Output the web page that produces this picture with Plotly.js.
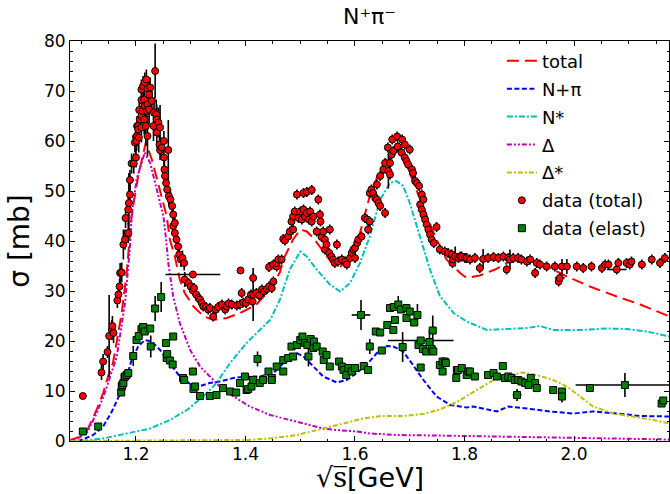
<!DOCTYPE html>
<html>
<head>
<meta charset="utf-8">
<script src="https://cdn.plot.ly/plotly-3.0.1.min.js"></script>
<style>html,body{margin:0;padding:0;background:#fff;}</style>
</head>
<body>
<div id="chart" style="width:670px;height:494px;"></div>
<script>
// ---- model curves ----
const totalX = [1.08,1.098,1.110,1.128,1.140,1.149,1.158,1.174,1.183,1.189,1.192,1.204,1.218,1.229,1.244,1.256,1.262,1.271,1.280,1.289,1.305,1.323,1.341,1.366,1.390,1.420,1.445,1.463,1.469,1.487,1.500,1.512,1.524,1.542,1.560,1.573,1.591,1.606,1.627,1.646,1.664,1.673,1.688,1.700,1.716,1.731,1.749,1.767,1.792,1.804,1.828,1.856,1.877,1.901,1.926,1.956,1.987,2.029,2.078,2.121,2.175];
const totalY = [0.2,0.8,1.9,6.2,9.6,12.9,15.6,25.6,33.6,42.3,45,53,59.7,56.3,50.3,45,40.3,36.9,32.3,29.6,26.9,25.0,24.2,24.6,25.6,27.3,30.3,33.8,36.3,40.3,42.3,41.9,40.6,37.9,35.3,34.9,36.3,40.3,49.0,54.3,57.3,58.3,57.0,53.6,49.0,45.0,40.3,36.3,33.6,32.6,33.1,34.3,35.6,36.3,35.9,34.6,32.9,30.9,28.9,27.3,24.9];

const npiX = [1.08,1.098,1.122,1.140,1.156,1.168,1.180,1.192,1.204,1.216,1.229,1.244,1.262,1.280,1.299,1.317,1.335,1.353,1.378,1.402,1.426,1.451,1.463,1.481,1.494,1.506,1.524,1.542,1.567,1.585,1.603,1.621,1.640,1.658,1.670,1.688,1.706,1.725,1.749,1.774,1.804,1.816,1.859,1.880,1.914,1.956,1.999,2.035,2.078,2.121,2.175];
const npiY = [0,0.1,1.2,2.9,5.9,8.6,11.6,16.2,18.9,20.2,19.9,18.2,15.6,12.9,11.4,11.0,11.6,11.9,12.6,12.9,12.9,13.6,14.9,16.9,17.6,16.9,14.9,12.9,11.7,12.2,13.6,15.2,17.6,19.0,18.9,17.9,15.2,12.2,8.9,7.2,6.7,6.9,5.9,6.9,6.5,5.9,5.5,5.9,5.5,5.0,4.9];

const nstarX = [1.08,1.098,1.140,1.183,1.226,1.262,1.293,1.323,1.347,1.372,1.402,1.426,1.445,1.463,1.481,1.500,1.512,1.530,1.554,1.573,1.591,1.609,1.627,1.646,1.664,1.676,1.688,1.700,1.719,1.737,1.755,1.780,1.804,1.841,1.877,1.914,1.938,1.962,2.011,2.060,2.096,2.133,2.175];
const nstarY = [0,0,0.5,1.5,2.5,4.2,6.2,8.9,11.6,15.6,19.6,22.2,24.2,28.3,34.3,37.9,36.9,34.3,31.3,29.9,31.6,35.6,40.9,48.3,51.6,52.0,51.0,47.6,40.9,34.3,29.0,25.6,23.9,22.2,22.4,22.6,23.0,22.2,22.2,22.5,22.4,21.9,20.9];

const deltaX = [1.08,1.110,1.128,1.143,1.165,1.180,1.189,1.192,1.201,1.216,1.226,1.238,1.250,1.255,1.259,1.268,1.280,1.299,1.317,1.335,1.353,1.378,1.408,1.445,1.469,1.494,1.518,1.542,1.567,1.603,1.627,1.676,1.749,1.798,1.920,2.041,2.175];
const deltaY = [0,1.6,5.5,9.6,16.9,27.6,38.9,45,52.3,57.7,55.6,50.3,45,40.3,35.6,28.9,23.6,18.2,14.9,12.9,10.9,8.9,6.9,5.2,4.5,3.9,3.2,2.5,2.2,1.9,1.5,1.2,1.1,1.0,0.7,0.5,0.3];

const dstarX = [1.08,1.300,1.400,1.445,1.494,1.542,1.579,1.615,1.646,1.688,1.725,1.755,1.786,1.822,1.853,1.883,1.907,1.932,1.962,1.987,2.011,2.035,2.072,2.108,2.145,2.175];
const dstarY = [0,0.05,0.2,0.5,1.2,2.5,3.5,4.5,5.0,5.0,5.4,6.3,7.8,10.2,12.2,13.2,13.7,13.2,12.2,10.9,8.9,6.9,5.5,4.9,4.2,3.5];

// ---- data (total) ----
const totDataX = [1.103,1.137,1.140,1.148,1.151,1.156,1.157,1.159,1.166,1.168,1.170,1.171,1.174,1.177,1.180,1.181,1.186,1.186,1.187,1.189,1.189,1.192,1.196,1.198,1.200,1.200,1.201,1.202,1.202,1.204,1.204,1.205,1.206,1.207,1.210,1.210,1.210,1.210,1.212,1.213,1.215,1.215,1.216,1.216,1.218,1.219,1.220,1.221,1.221,1.221,1.224,1.224,1.226,1.229,1.232,1.233,1.235,1.237,1.238,1.238,1.241,1.243,1.244,1.244,1.247,1.251,1.251,1.252,1.253,1.255,1.257,1.259,1.260,1.263,1.266,1.268,1.268,1.271,1.271,1.274,1.277,1.279,1.282,1.285,1.288,1.289,1.296,1.300,1.304,1.304,1.306,1.310,1.314,1.317,1.320,1.323,1.328,1.332,1.335,1.341,1.346,1.350,1.357,1.363,1.366,1.369,1.375,1.384,1.390,1.391,1.393,1.396,1.401,1.405,1.410,1.413,1.414,1.414,1.420,1.425,1.430,1.434,1.439,1.443,1.443,1.448,1.451,1.451,1.457,1.457,1.460,1.466,1.469,1.472,1.478,1.481,1.484,1.487,1.487,1.490,1.494,1.497,1.500,1.503,1.506,1.506,1.509,1.512,1.512,1.516,1.518,1.521,1.521,1.524,1.530,1.533,1.536,1.537,1.539,1.542,1.545,1.545,1.548,1.553,1.554,1.557,1.560,1.563,1.567,1.569,1.576,1.582,1.585,1.591,1.594,1.597,1.600,1.600,1.604,1.606,1.612,1.618,1.622,1.624,1.627,1.627,1.630,1.633,1.637,1.640,1.640,1.643,1.646,1.646,1.652,1.655,1.655,1.660,1.661,1.664,1.664,1.667,1.668,1.670,1.677,1.678,1.685,1.686,1.691,1.691,1.694,1.697,1.700,1.704,1.706,1.710,1.713,1.717,1.719,1.722,1.722,1.725,1.725,1.728,1.731,1.734,1.737,1.740,1.744,1.749,1.755,1.764,1.770,1.777,1.778,1.779,1.783,1.789,1.792,1.795,1.801,1.804,1.810,1.819,1.828,1.834,1.843,1.853,1.862,1.871,1.877,1.880,1.883,1.889,1.898,1.904,1.914,1.920,1.929,1.932,1.938,1.950,1.965,1.972,1.974,1.978,1.987,2.005,2.017,2.032,2.051,2.057,2.063,2.078,2.081,2.096,2.102,2.105,2.124,2.142,2.157,2.166];
const totDataY = [9.0,13.7,15.9,17.8,21.0,22.2,23.0,21.6,28.1,29.3,30.9,33.6,33.7,39.3,40.3,44.6,41.6,46.3,47.6,49.3,52.2,55.5,55.5,59.7,56.7,60.8,60.0,61.0,63.0,63.0,62.3,60.7,66.2,64.3,68.2,70.3,65.0,62.7,66.0,71.0,68.3,64.3,71.7,67.0,63.0,72.3,66.0,70.5,67.3,61.0,69.3,66.3,70.7,68.0,63.0,65.7,74.0,65.3,64.3,61.7,63.7,59.3,62.7,58.2,58.7,60.0,56.7,54.3,53.0,51.6,50.3,58.2,49.0,48.3,47.0,45.3,43.0,43.6,41.6,40.3,38.9,37.3,36.3,36.6,35.6,32.3,31.6,30.9,33.3,30.1,30.6,29.3,28.6,28.3,27.6,26.9,26.8,26.3,26.6,24.9,26.3,26.8,27.3,26.3,26.9,27.5,27.3,27.1,27.3,34.1,29.6,27.7,27.6,28.3,29.3,27.9,29.3,32.6,29.6,29.1,30.3,29.9,30.4,30.9,34.8,30.6,31.9,35.3,34.9,35.6,36.3,36.3,40.4,40.1,40.9,41.9,43.9,42.3,44.9,45.9,49.3,44.6,45.9,44.3,49.6,46.3,44.9,49.8,45.6,44.3,45.9,50.2,43.9,44.9,41.9,48.3,45.3,43.9,40.8,41.9,40.3,38.3,39.3,37.6,42.3,36.9,36.3,35.6,39.3,35.9,36.3,35.9,35.3,36.6,37.6,38.3,38.6,36.6,39.6,40.3,40.9,44.6,44.3,42.3,43.9,49.6,50.3,49.6,48.6,48.3,51.3,47.6,47.0,53.0,54.3,55.6,45.6,58.7,54.0,55.6,53.3,57.3,60.3,58.0,60.9,58.9,57.7,60.3,59.3,56.7,56.0,55.3,58.3,54.3,53.6,52.0,51.6,51.0,47.3,49.3,46.3,48.3,45.3,44.3,43.3,42.3,41.3,40.3,39.6,42.8,38.3,37.9,37.6,37.3,35.6,36.3,36.9,36.6,36.9,36.9,36.6,36.6,36.3,36.6,34.6,36.4,36.6,36.8,36.6,36.9,34.3,36.6,36.3,36.6,36.6,36.3,35.9,36.3,33.6,35.6,35.3,34.9,34.9,31.9,32.6,34.9,34.9,34.9,34.6,34.9,34.6,35.3,35.3,34.3,35.6,35.6,35.3,35.9,35.3,36.3,35.6,36.6];
const totDataErr = [0,1.5,1.5,1.2,8.2,2,2,2,1.5,1.5,1.5,2,2,3,2,2,2,3,6,2,2,2,2,2,2,2,2,2,2,2,2,3,2,2,2,2,2,3,2,2,2,3,2,2,4,2,2,2,2,4,3,3,2,3,3,3,5.5,3,3,3,3,2,4.5,2,2,2,2,3,2,2,2,6,2,2,2,2,2,2,1.5,1.5,1.5,1.5,1.5,1.5,1.5,1.5,1,1,0,1,1,1,1,1,1,1,1,1,1,1,1,1,1,1,1,1,1,1,1,0,1,1,1,1,1,1,5.3,1,1,1,1,1,1,1,1,1,1,1,1,1,1,1,1,1,1,1,1,1,1,1,1,1,1,1,1,1,1,1,1,1,1,1,1,1,1,1,1,1,1,1,1,1,1,1,1,1,1,1,1,1,1,1,1,1,1,1,1,1,1,1,1,1,1,1,1,1,1,1,1,1,1,1,1,1,1,1,1,1,3.5,1,1,1,1,1,1,1,1,1,1,1,1,1,1,1,1,1,1,1,1,1,1,1,1,1,1,1,1,1,1,1,1,1,1,1,1,1,2,1,1,1,1,1,1,1,1,2,1,1,1,1,1,1,2,1,1,1,1,1,1,1,1,1,1,1,1,1.5,1.5,1,1,1,1,1,1,1,1,1,1,1,1,1,1,1,1,1];
const totDataXErr = totDataX.map(function(){ return 0; });
totDataXErr[totDataX.indexOf(1.304)] = 0.05;
totDataXErr[totDataX.indexOf(2.078)] = 0.018;
totDataXErr[totDataX.indexOf(1.974)] = 0.009;

// ---- data (elast) ----
const elDataX = [1.103,1.131,1.173,1.174,1.175,1.177,1.179,1.180,1.183,1.186,1.195,1.201,1.205,1.210,1.213,1.216,1.226,1.227,1.235,1.246,1.255,1.256,1.257,1.262,1.267,1.268,1.286,1.288,1.304,1.305,1.308,1.317,1.335,1.347,1.359,1.372,1.383,1.390,1.399,1.402,1.405,1.411,1.414,1.422,1.426,1.432,1.442,1.448,1.448,1.457,1.469,1.469,1.478,1.484,1.487,1.494,1.500,1.504,1.509,1.513,1.515,1.519,1.524,1.525,1.530,1.541,1.543,1.548,1.554,1.571,1.576,1.579,1.584,1.588,1.594,1.600,1.611,1.616,1.624,1.627,1.638,1.646,1.649,1.659,1.664,1.670,1.671,1.673,1.679,1.684,1.687,1.694,1.694,1.700,1.708,1.714,1.716,1.720,1.720,1.724,1.730,1.736,1.740,1.742,1.743,1.755,1.760,1.760,1.764,1.766,1.785,1.786,1.788,1.795,1.804,1.807,1.810,1.819,1.843,1.853,1.859,1.870,1.874,1.880,1.886,1.892,1.896,1.898,1.904,1.911,1.917,1.921,1.929,1.932,1.962,1.978,1.978,2.029,2.093,2.160,2.163];
const elDataY = [1.9,2.9,9.7,10.9,11.2,11.6,12.8,12.9,13.2,13.6,17.0,20.2,21.0,22.4,22.8,21.9,22.5,18.9,26.5,28.8,19.6,16.6,17.4,16.1,15.3,20.9,12.6,12.2,13.9,10.4,10.9,9.0,9.0,9.2,10.6,9.9,9.7,11.6,12.9,10.2,10.4,10.9,12.2,16.4,11.6,12.2,13.9,12.6,12.2,14.9,13.9,16.2,16.6,18.9,16.9,19.2,20.2,20.9,19.6,19.2,16.9,20.4,18.6,19.9,18.9,17.9,16.2,17.2,14.9,15.9,14.9,14.2,13.2,14.6,13.9,14.6,25.2,15.0,14.2,18.9,21.9,21.7,18.1,23.2,26.6,22.2,26.8,24.2,27.3,26.3,18.8,26.6,24.6,25.9,23.7,25.2,19.2,20.1,14.7,18.4,17.9,19.8,18.4,22.1,17.9,15.2,15.9,13.9,15.9,15.6,12.6,14.2,14.2,14.6,13.2,13.9,13.9,12.9,13.2,13.6,12.9,15.0,12.6,12.9,12.6,12.2,9.2,12.2,11.9,11.6,11.2,12.6,11.6,10.6,10.2,9.9,8.9,10.6,11.2,7.5,8.1];
const elDataErr = [0,0,0,0,1,0,0,0,0,0,2,0,0,0,0,0,0,2.2,2.5,3,0,0,0,0,0,0,0,0,0,0,0,0,0,0,0,0,0,0,0,0,0,0,0,1.5,0,0,0,0,0,0,0,0,0,0,0,0,0,0,0,0,2,0,0,0,0,0,0,0,0,0,0,0,0,0,0,0,3,0,0,1.5,0,0,0,0,0,0,0,0,1.7,0,3,0,0,0,0,2.2,0,0,0,0,0,2.5,0,3,0,0,0,0,0,0,0,0,0,0,0,0,0,0,0,0,0,0,0,0,0,0,1.2,0,0,0,0,0,0,0,0,0,1.2,0,2.4,0,0];
const elDataXErr = elDataX.map(function(){ return 0; });
elDataXErr[elDataX.indexOf(1.611)] = 0.017;
elDataXErr[elDataX.indexOf(1.720)] = 0.06;
elDataXErr[elDataX.indexOf(1.896)] = 0.008;
elDataXErr[elDataX.indexOf(2.093)] = 0.09;

const FONT = 'DejaVu Sans, sans-serif';

function curve(x, y, name, color, dash) {
  return {x: x, y: y, name: name, type: 'scatter', mode: 'lines',
          line: {color: color, width: 2, dash: dash},
          legendgroup: name};
}
function dataTrace(x, y, ey, ex, name, color, symbol) {
  return {x: x, y: y, name: name, type: 'scatter', mode: 'markers', legendgroup: name,
          marker: {color: color, size: 7, symbol: symbol, line: {color: 'black', width: 1}},
          error_y: {type: 'data', array: ey, visible: true, color: 'black', thickness: 1.6, width: 0},
          error_x: {type: 'data', array: ex, visible: true, color: 'black', thickness: 1.6, width: 0}};
}

const traces = [
  curve(totalX, totalY, 'total', '#ff0000', '12px,6px'),
  curve(npiX, npiY, 'N+π', '#0000ff', '5px,2.5px'),
  curve(nstarX, nstarY, 'N*', '#00bfbf', '6px,2px,2px,2px'),
  curve(deltaX, deltaY, 'Δ', '#bf00bf', '5px,2px,2px,2px,2px,2px'),
  curve(dstarX, dstarY, 'Δ*', '#bfbf00', '5px,2px,2px,2px'),
  dataTrace(totDataX, totDataY, totDataErr, totDataXErr, 'data (total)', '#ff0000', 'circle'),
  dataTrace(elDataX, elDataY, elDataErr, elDataXErr, 'data (elast)', '#008000', 'square')
];

const axisCommon = {
  showline: true, linecolor: 'black', linewidth: 1, mirror: 'ticks',
  ticks: 'inside', ticklen: 5, tickwidth: 1, tickcolor: 'black',
  showgrid: false, zeroline: false,
  tickfont: {family: FONT, size: 17, color: 'black'}
};

const layout = {
  width: 670, height: 494,
  margin: {l: 70, r: 1, t: 41, b: 53},
  paper_bgcolor: 'white', plot_bgcolor: 'white',
  showlegend: true,
  title: {text: 'N⁺π⁻', font: {family: FONT, size: 22, color: 'black'},
          x: 0.5, xref: 'paper', xanchor: 'center', y: 1 - 16/494, yref: 'container', yanchor: 'middle'},
  xaxis: Object.assign({}, axisCommon, {
    range: [1.0795, 2.1735],
    tickvals: [1.2, 1.4, 1.6, 1.8, 2.0],
    ticktext: ['1.2', '1.4', '1.6', '1.8', '2.0'],
    ticklabelstandoff: -2,
    minor: {ticks: 'inside', dtick: 0.05, tick0: 0, ticklen: 2.5, tickcolor: 'black', showgrid: false}
  }),
  yaxis: Object.assign({}, axisCommon, {
    range: [0, 80], dtick: 10, tick0: 0,
    minor: {ticks: 'inside', dtick: 2, tick0: 0, ticklen: 2.5, tickcolor: 'black', showgrid: false},
    title: {text: 'σ [mb]', font: {family: FONT, size: 28, color: 'black'}, standoff: 6}
  }),
  annotations: [{
    text: '<span style="font-family:DejaVu Serif">√s\u0305</span>[GeV]',
    xref: 'paper', yref: 'paper', x: 0.5, y: -0.09, xanchor: 'center', yanchor: 'middle',
    showarrow: false, font: {family: FONT, size: 27, color: 'black'}
  }],
  legend: {x: 0.721, y: 0.996, xanchor: 'left', yanchor: 'top',
           bgcolor: 'rgba(255,255,255,0)', borderwidth: 0,
           font: {family: FONT, size: 18, color: 'black'},
           tracegroupgap: 1.5, traceorder: 'grouped'}
};

Plotly.newPlot('chart', traces, layout, {displayModeBar: false, staticPlot: true});
</script>
</body>
</html>
